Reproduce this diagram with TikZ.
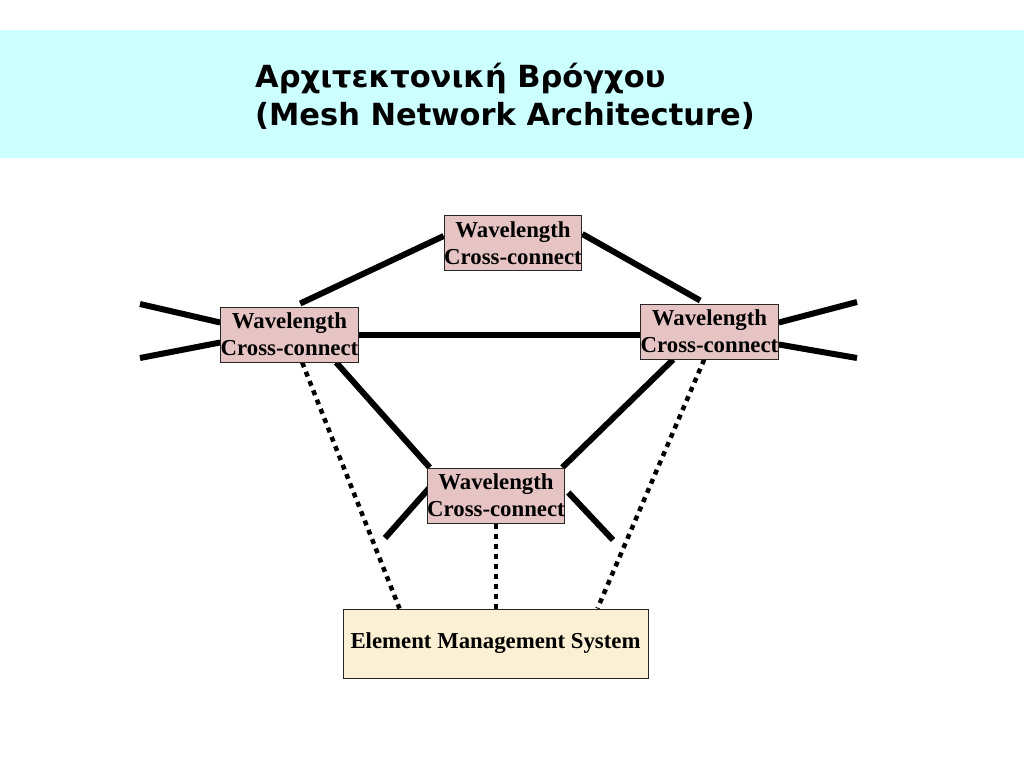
\documentclass[tikz,border=0pt]{standalone}
\usepackage{fontspec}
\setmainfont{Liberation Serif}
\newfontfamily\titlefont{DejaVu Sans}
\usetikzlibrary{calc,backgrounds}
\definecolor{xcpink}{RGB}{231,196,196}
\definecolor{emsfill}{RGB}{252,240,212}
\definecolor{bandcyan}{RGB}{204,255,255}
\begin{document}
\begin{tikzpicture}[x=1pt,y=-1pt,
  wxc/.style={draw=black!85, line width=1pt, fill=xcpink, minimum width=137pt, minimum height=55pt, inner sep=0pt, align=center, font=\bfseries\fontsize{22.8}{27}\selectfont},
  emsbox/.style={draw=black!85, line width=1pt, fill=emsfill, minimum width=305pt, minimum height=69pt, inner sep=0pt, font=\bfseries\fontsize{22.8}{27}\selectfont},
  ttl/.style={anchor=base west, inner sep=0pt, font=\titlefont\bfseries\fontsize{30.5}{38}\selectfont},
  link/.style={line width=6pt},
  mgmt/.style={line width=4.5pt, dash pattern=on 5pt off 5pt}]
\path[use as bounding box] (0,0) rectangle (1024,768);
\node[ttl] (title1) at (255,87) {Αρχιτεκτονική Βρόγχου};
\node[ttl] (title2) at (255,125) {(Mesh Network Architecture)};

\node[wxc] (T) at (513,243) {Wavelength\\Cross-connect};
\node[wxc] (L) at (289.5,334.5) {Wavelength\\Cross-connect};
\node[wxc] (R) at (709.5,331.5) {Wavelength\\Cross-connect};
\node[wxc] (B) at (496,495.5) {Wavelength\\Cross-connect};
\node[emsbox] (E) at (495.5,643.5) {Element Management System};

\coordinate (l1) at (140,304);
\coordinate (l2) at (140,358);
\coordinate (r1) at (857,302);
\coordinate (r2) at (857,358);
\coordinate (b1) at (385,538);
\coordinate (b2) at (613,540);

\begin{scope}[on background layer]
\fill[bandcyan] (0,30) rectangle (1024,158);
\draw[link] ($(L.north west)+(80,-3)$) -- ($(T.south west)+(0,-35)$);
\draw[link] ($(T.north east)+(0,19)$) -- ($(R.north west)+(60,-3)$);
\draw[link] (L.east) -- (L.east -| R.west);
\draw[link] ($(L.south west)+(116,0)$) -- ($(B.north west)+(3,0)$);
\draw[link] ($(R.south west)+(33,0)$) -- ($(B.north east)+(-3,0)$);
\draw[link] (l1) -- ($(L.west)+(0,-12)$);
\draw[link] (l2) -- ($(L.west)+(0,8)$);
\draw[link] ($(R.east)+(0,-9)$) -- (r1);
\draw[link] ($(R.east)+(0,13)$) -- (r2);
\draw[link] ($(B.west)+(3,-8)$) -- (b1);
\draw[link] ($(B.east)+(3,-3)$) -- (b2);
\draw[mgmt] ($(L.south west)+(82,0)$) -- ($(E.north west)+(57,0)$);
\draw[mgmt] (B.south) -- (B.south |- E.north);
\draw[mgmt] ($(R.south west)+(64,0)$) -- ($(E.north west)+(255,0)$);
\end{scope}
\end{tikzpicture}
\end{document}
